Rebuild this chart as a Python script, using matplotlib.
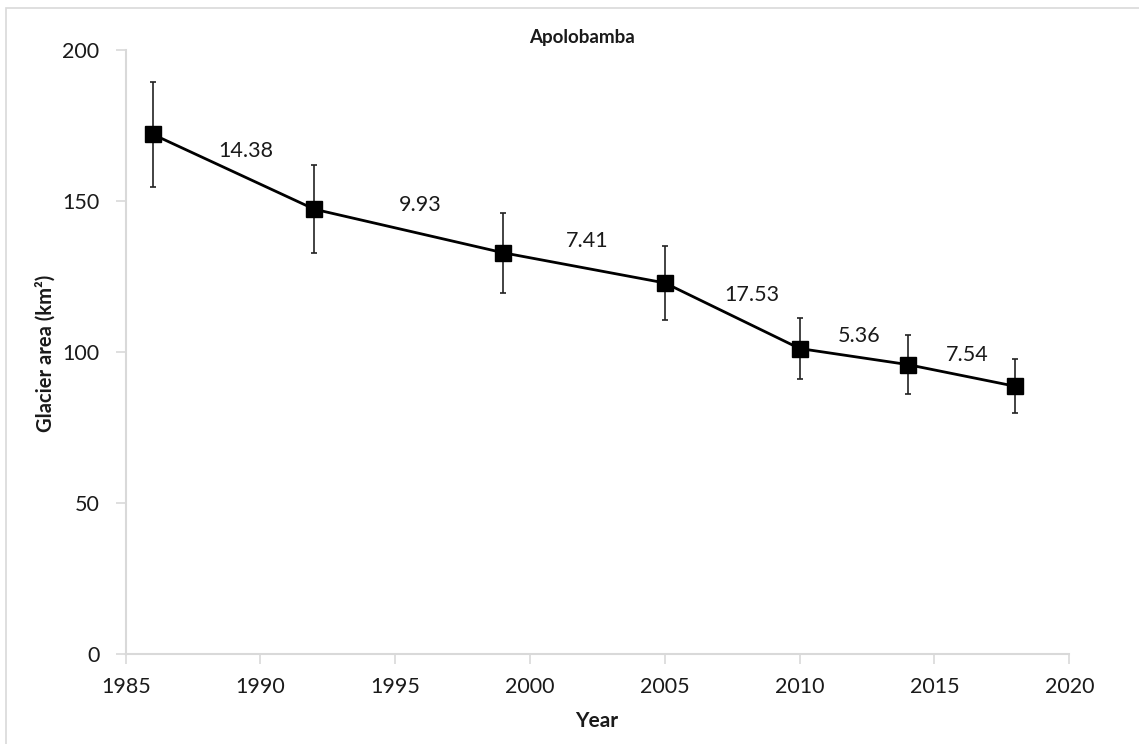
import numpy as np
import matplotlib.pyplot as plt
from matplotlib.patches import Rectangle

# glacier area per survey year, with uncertainty
years = [1986, 1992, 1999, 2005, 2010, 2014, 2018]
area = [172.1, 147.3, 132.9, 122.9, 101.2, 95.9, 88.7]
area_err = [17.3, 14.6, 13.3, 12.3, 10.1, 9.7, 8.9]

# percentage loss between consecutive surveys
loss_labels = ['14.38', '9.93', '7.41', '17.53', '5.36', '7.54']
# label offsets from segment midpoints (points)
label_offsets = [(9, 15), (8, 19), (2, 19), (14, 15), (4, 15), (4, 15)]

plt.rcParams['font.family'] = ['Lato', 'DejaVu Sans']
grid_grey = '#d9d9d9'
text_col = '#1a1a1a'

fig = plt.figure(figsize=(11.39, 7.44), dpi=100)
ax = fig.add_axes([125.7 / 1139, 1 - 654.3 / 744, (1069.3 - 125.7) / 1139, (654.3 - 50) / 744])

# chart area frame
fig.patches.append(Rectangle((6 / 1139, -0.1), 2, 1.1 - 8 / 744, transform=fig.transFigure,
                             fill=False, edgecolor=grid_grey, linewidth=1.2))

ax.errorbar(years, area, yerr=area_err, color='black', linewidth=2.0,
            marker='s', markersize=11.5, ecolor='#222222', elinewidth=1.2,
            capsize=2.5, capthick=1.2, zorder=3)

for i, lab in enumerate(loss_labels):
    xm = (years[i] + years[i + 1]) / 2
    ym = (area[i] + area[i + 1]) / 2
    ax.annotate(lab, (xm, ym), xytext=label_offsets[i], textcoords='offset points',
                ha='center', va='center', fontsize=15.5, color=text_col)

ax.set_xlim(1985, 2020)
ax.set_ylim(0, 200)
ax.set_xticks(np.arange(1985, 2021, 5))
ax.set_yticks(np.arange(0, 201, 50))

for s in ['top', 'right']:
    ax.spines[s].set_visible(False)
for s in ['left', 'bottom']:
    ax.spines[s].set_color(grid_grey)
    ax.spines[s].set_linewidth(1.5)

ax.tick_params(axis='both', colors=grid_grey, labelcolor=text_col, labelsize=15.5,
               length=7, width=1.2, direction='out')
ax.tick_params(axis='y', pad=12)
ax.tick_params(axis='x', pad=9)

fig.text(582 / 1139, 1 - 37 / 744, 'Apolobamba', ha='center', va='center',
         fontsize=13.5, fontweight='bold', color=text_col)
fig.text(597 / 1139, 1 - 721 / 744, 'Year', ha='center', va='center',
         fontsize=15, fontweight='bold', color=text_col)
fig.text(46 / 1139, 1 - 353 / 744, 'Glacier area (km²)', ha='center', va='center',
         rotation=90, fontsize=14.5, fontweight='bold', color=text_col)

fig.savefig('out.png', dpi=100)
